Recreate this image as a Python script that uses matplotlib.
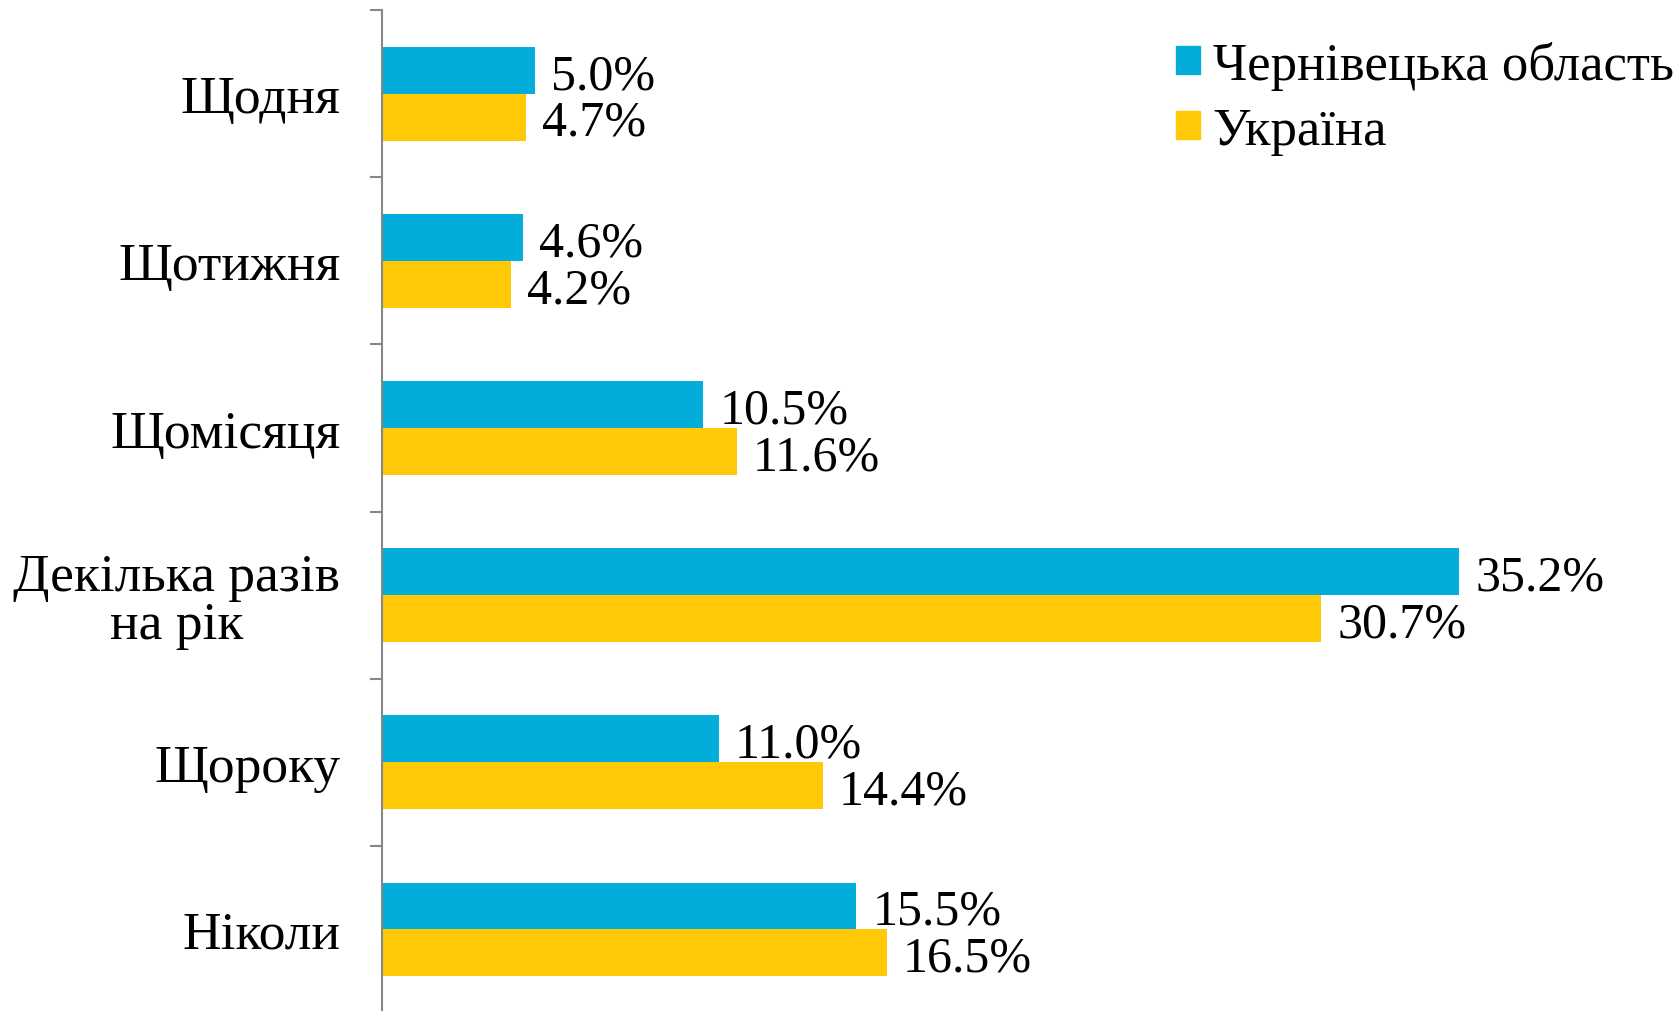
import numpy as np
import matplotlib.pyplot as plt
from matplotlib.patches import Patch

plt.rcParams['font.family'] = ['Liberation Serif', 'DejaVu Serif']

# Data
categories = ["Щодня", "Щотижня", "Щомісяця", "Декілька разів\nна рік", "Щороку", "Ніколи"]
chernivtsi = [5.0, 4.6, 10.5, 35.2, 11.0, 15.5]
ukraine = [4.7, 4.2, 11.6, 30.7, 14.4, 16.5]
series_names = ["Чернівецька область", "Україна"]

blue = "#02AED9"
yellow = "#FFC907"

fig = plt.figure(figsize=(16.81, 10.12), dpi=100)
ax = fig.add_axes([0.2273, -0.002, 0.7727, 0.991])

y = np.arange(len(categories))
h = 0.28
ax.barh(y - h / 2, chernivtsi, height=h, color=blue)
ax.barh(y + h / 2, ukraine, height=h, color=yellow)

# value labels
for yi, v in zip(y - h / 2, chernivtsi):
    ax.annotate(f"{v:.1f}%", (v, yi), xytext=(11.5, -4), textcoords="offset points",
                ha="left", va="center", fontsize=36)
for yi, v in zip(y + h / 2, ukraine):
    ax.annotate(f"{v:.1f}%", (v, yi), xytext=(11.5, -4), textcoords="offset points",
                ha="left", va="center", fontsize=36)

ax.set_xlim(0, 42.45)
ax.set_ylim(len(categories) - 0.5, -0.5)

ax.set_yticks(y)
ax.set_yticklabels(categories, fontsize=38.5, multialignment="center", linespacing=1.02)
ax.set_yticks(np.arange(len(categories) + 1) - 0.5, minor=True)
ax.tick_params(axis="y", which="major", length=0, pad=30)
ax.tick_params(axis="y", which="minor", length=9, width=1.5, color="#878787")
ax.set_xticks([])

for s in ["top", "right", "bottom"]:
    ax.spines[s].set_visible(False)
ax.spines["left"].set_color("#878787")
ax.spines["left"].set_linewidth(1.5)

handles = [Patch(color=blue), Patch(color=yellow)]
ax.legend(handles, series_names, loc="upper right", bbox_to_anchor=(1.031, 1.017),
          frameon=False, fontsize=38, handlelength=0.45, handleheight=0.45,
          handletextpad=0.25, labelspacing=0.33)

fig.savefig("out.png", dpi=100)
